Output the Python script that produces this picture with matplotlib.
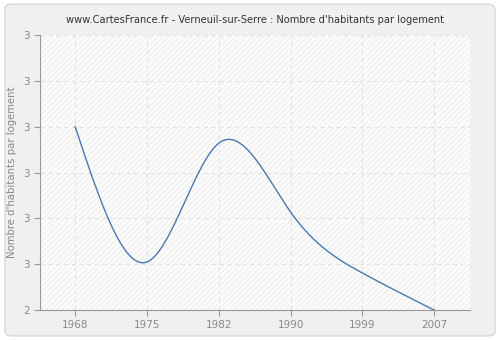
import matplotlib
matplotlib.use("Agg")
import matplotlib.pyplot as plt
import numpy as np
from matplotlib.patches import FancyBboxPatch

# data
years = [1968, 1975, 1982, 1990, 1999, 2007]
values = [2.80, 2.505, 2.764, 2.614, 2.481, 2.40]
y_ticks = [2.4, 2.5, 2.6, 2.7, 2.8, 2.9, 3.0]
y_tick_labels = ["2", "3", "3", "3", "3", "3", "3"]


def natural_spline(x, y, n=400):
    # smooth curve through the points, like the original renderer
    x = np.asarray(x, float)
    y = np.asarray(y, float)
    k = len(x)
    h = np.diff(x)
    a = np.zeros((k, k))
    b = np.zeros(k)
    a[0, 0] = a[-1, -1] = 1
    for i in range(1, k - 1):
        a[i, i - 1] = h[i - 1]
        a[i, i] = 2 * (h[i - 1] + h[i])
        a[i, i + 1] = h[i]
        b[i] = 6 * ((y[i + 1] - y[i]) / h[i] - (y[i] - y[i - 1]) / h[i - 1])
    m = np.linalg.solve(a, b)
    xs = np.linspace(x[0], x[-1], n)
    idx = np.clip(np.searchsorted(x, xs) - 1, 0, k - 2)
    t0 = xs - x[idx]
    t1 = x[idx + 1] - xs
    hh = h[idx]
    ys = (m[idx] * t1 ** 3 + m[idx + 1] * t0 ** 3) / (6 * hh) \
        + (y[idx] / hh - m[idx] * hh / 6) * t1 \
        + (y[idx + 1] / hh - m[idx + 1] * hh / 6) * t0
    return xs, ys


plt.rcParams['hatch.color'] = '#e8e8e8'
plt.rcParams['hatch.linewidth'] = 0.5

fig = plt.figure(figsize=(5, 3.4), dpi=100)
fig.patch.set_facecolor('white')
bg = FancyBboxPatch((0.01, 0.012), 0.98, 0.976, boxstyle="round,pad=0,rounding_size=0.015",
                    transform=fig.transFigure, facecolor='#f0f0f0', edgecolor='#d8d8d8',
                    linewidth=1, zorder=-10)
fig.patches.append(bg)

ax = fig.add_axes([0.08, 0.088, 0.86, 0.809])
ax.set_facecolor('#fbfbfb')
ax.patch.set_hatch('//////')
ax.patch.set_edgecolor('#e8e8e8')

# the years sit at even spacing on the axis
pos = np.arange(len(years))
xs, ys = natural_spline(pos, values)
ax.plot(xs, ys, color='#4a78b0', linewidth=1.0, zorder=3)

ax.set_xlim(-0.49, 5.5)
ax.set_ylim(2.4, 3.0)
ax.set_xticks(pos)
ax.set_xticklabels([str(y) for y in years])
ax.set_yticks(y_ticks)
ax.set_yticklabels(y_tick_labels)

ax.grid(True, color='#e2e2e2', linestyle=(0, (4, 3)), linewidth=0.8)
ax.set_axisbelow(True)
for side in ['top', 'right']:
    ax.spines[side].set_visible(False)
for side in ['left', 'bottom']:
    ax.spines[side].set_color('#999999')
ax.tick_params(colors='#999999', labelcolor='#888888', labelsize=7.5, length=4, width=0.8)

ax.set_ylabel("Nombre d'habitants par logement", fontsize=7.3, color='#888888')
ax.set_title("www.CartesFrance.fr - Verneuil-sur-Serre : Nombre d'habitants par logement",
             fontsize=7.1, color='#333333', pad=9)

fig.savefig('out.png', dpi=100, facecolor=fig.get_facecolor())
